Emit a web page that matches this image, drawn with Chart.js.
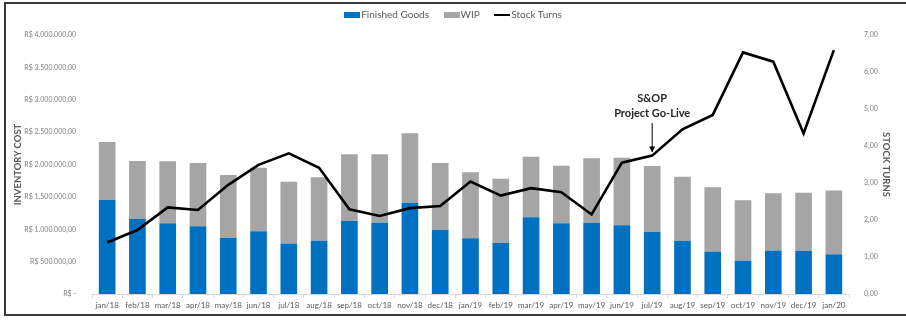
<!DOCTYPE html>
<html>
<head>
<meta charset="utf-8">
<script src="https://cdn.jsdelivr.net/npm/chart.js@4/dist/chart.umd.min.js"></script>
<style>
  html, body { margin: 0; padding: 0; background: #fff; }
  #wrap { position: relative; width: 906px; height: 320px; overflow: hidden; font-family: Lato, "Open Sans", sans-serif; }
  #frame { position: absolute; left: 4px; top: 2px; width: 920px; height: 310px; border: 2px solid #3a3a3a; pointer-events: none; }
  #legend { position: absolute; top: 8px; left: 0; width: 906px; text-align: center; font-size: 10px; color: #595959; }
  #legend span.item { display: inline-block; margin: 0 6px; }
  #legend i { display: inline-block; width: 16px; vertical-align: middle; margin-right: 1px; }
  canvas { position: absolute; left: 0; top: 0; }
</style>
</head>
<body>
<div id="wrap">
  <canvas id="chart" width="906" height="320"></canvas>
  <div id="legend">
    <span class="item"><i style="height:6px;background:#0070C0"></i>Finished Goods</span>
    <span class="item"><i style="height:6px;background:#A5A5A5"></i>WIP</span>
    <span class="item"><i style="height:2px;background:#000"></i>Stock Turns</span>
  </div>
  <div id="frame"></div>
</div>
<script>
// ============================= chart data

const months = ['jan/18', 'feb/18', 'mar/18', 'apr/18', 'may/18', 'jun/18', 'jul/18', 'aug/18', 'sep/18', 'oct/18', 'nov/18', 'dec/18',
    'jan/19', 'feb/19', 'mar/19', 'apr/19', 'may/19', 'jun/19', 'jul/19', 'aug/19', 'sep/19', 'oct/19', 'nov/19', 'dec/19', 'jan/20']

const finishedGoods = [1452000, 1158000, 1092000, 1045000, 865000, 968000, 777000, 823000, 1127000, 1101000, 1410000, 993000,
    860000, 788000, 1184000, 1092000, 1101000, 1060000, 958000, 823000, 653000, 514000, 669000, 664000, 613000]

const totalInventory = [2347000, 2054000, 2050000, 2023000, 1838000, 1950000, 1734000, 1802000, 2157000, 2157000, 2482000, 2023000,
    1879000, 1781000, 2120000, 1982000, 2095000, 2105000, 1977000, 1812000, 1648000, 1447000, 1555000, 1565000, 1600000]

const wip = totalInventory.map((t, i) => t - finishedGoods[i])

const stockTurns = [1.39, 1.73, 2.34, 2.27, 2.95, 3.49, 3.80, 3.41, 2.29, 2.11, 2.32, 2.38,
    3.04, 2.66, 2.86, 2.75, 2.15, 3.55, 3.74, 4.45, 4.84, 6.53, 6.28, 4.34, 6.59]

const goLiveMonth = 'jul/19'

// ============================= helpers

const FONT = 'Lato, "Open Sans", sans-serif'
const TXT = '#595959'

const brl = v => v === 0 ? 'R$ -' : 'R$ ' + v.toLocaleString('pt-BR', { minimumFractionDigits: 2, maximumFractionDigits: 2 })

// draws the "S&OP Project Go-Live" note with its arrow above the go-live month
const goLivePlugin = {
    id: 'goLive',
    afterDatasetsDraw(chart) {
        const ctx = chart.ctx
        const x = chart.scales.x.getPixelForValue(months.indexOf(goLiveMonth))
        const yLine = chart.scales.y1.getPixelForValue(stockTurns[months.indexOf(goLiveMonth)])
        ctx.save()
        ctx.fillStyle = '#262626'
        ctx.font = `bold 11px ${FONT}`
        ctx.textAlign = 'center'
        ctx.textBaseline = 'middle'
        ctx.fillText('S&OP', x, 98)
        ctx.fillText('Project Go-Live', x, 113)
        ctx.strokeStyle = '#000'
        ctx.lineWidth = 1
        ctx.beginPath()
        ctx.moveTo(x, 123)
        ctx.lineTo(x, yLine - 4)
        ctx.stroke()
        ctx.beginPath()
        ctx.moveTo(x - 3, yLine - 9)
        ctx.lineTo(x, yLine - 3)
        ctx.lineTo(x + 3, yLine - 9)
        ctx.closePath()
        ctx.fillStyle = '#000'
        ctx.fill()
        ctx.restore()
    }
}

// ============================= creates the chart

new Chart(document.getElementById('chart'), {
    type: 'bar',
    data: {
        labels: months,
        datasets: [
            { type: 'line', label: 'Stock Turns', data: stockTurns, yAxisID: 'y1', borderColor: '#000', borderWidth: 2.6,
              pointRadius: 0, tension: 0, order: 0 },
            { label: 'Finished Goods', data: finishedGoods, backgroundColor: '#0070C0', yAxisID: 'y', order: 1,
              barPercentage: 0.55, categoryPercentage: 1 },
            { label: 'WIP', data: wip, backgroundColor: '#A5A5A5', yAxisID: 'y', order: 1,
              barPercentage: 0.55, categoryPercentage: 1 }
        ]
    },
    options: {
        responsive: false,
        animation: false,
        layout: { padding: { top: 35, left: 12, right: 14, bottom: 6 } },
        plugins: {
            legend: { display: false },
            tooltip: { enabled: false }
        },
        scales: {
            x: {
                stacked: true,
                afterFit: s => { s.height = 20 },
                grid: { drawOnChartArea: false, color: '#D9D9D9', tickLength: 4 },
                border: { color: '#D9D9D9' },
                ticks: { color: TXT, font: { family: FONT, size: 8 }, padding: 3, maxRotation: 0, autoSkip: false }
            },
            y: {
                stacked: true,
                min: 0, max: 4000000,
                afterFit: s => { s.width = 80 },
                grid: { display: false },
                border: { display: false },
                title: { display: true, text: 'INVENTORY COST', color: TXT, font: { family: FONT, size: 9.5, weight: 'bold' }, padding: 0 },
                ticks: { stepSize: 500000, color: '#7F7F7F', font: { family: FONT, size: 7 }, padding: 8, callback: v => brl(v) }
            },
            y1: {
                position: 'right',
                min: 0, max: 7,
                afterFit: s => { s.width = 43 },
                grid: { display: false },
                border: { display: false },
                title: { display: true, text: 'STOCK TURNS', color: TXT, font: { family: FONT, size: 9.5, weight: 'bold' }, padding: 0 },
                ticks: { stepSize: 1, color: '#7F7F7F', font: { family: FONT, size: 7 }, padding: 7,
                         callback: v => v.toFixed(2).replace('.', ',') }
            }
        }
    },
    plugins: [goLivePlugin]
})
</script>
</body>
</html>
